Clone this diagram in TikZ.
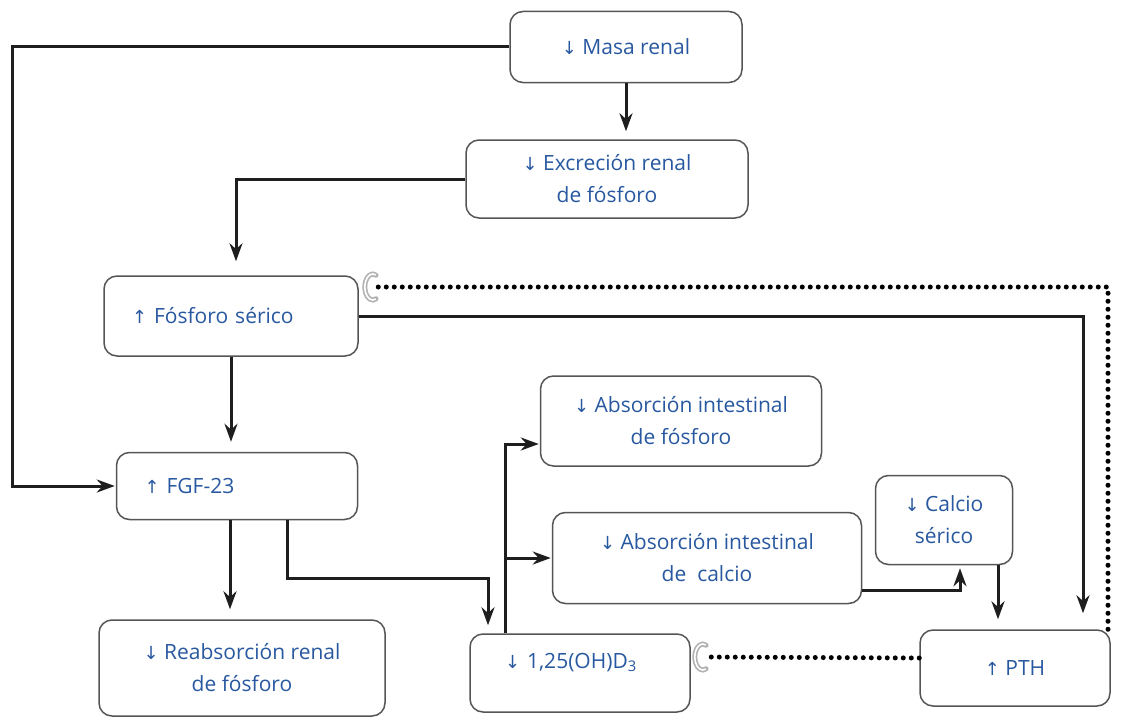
\documentclass[tikz,border=0pt]{standalone}
\usepackage{fontspec}
\setmainfont{Open Sans}
\newfontfamily\arrowfont{DejaVu Sans}
\usetikzlibrary{arrows.meta}
\definecolor{txtblue}{RGB}{40,88,160}
\definecolor{boxgray}{RGB}{85,85,85}
\definecolor{linegray}{RGB}{30,30,30}
\newcommand{\bajo}{{\arrowfont\fontsize{18}{18}\selectfont ↓}}
\newcommand{\sube}{{\arrowfont\fontsize{18}{18}\selectfont ↑}}
\tikzset{
  box/.style={draw=boxgray, line width=1.5pt, rounded corners=13pt, fill=white,
    text=txtblue, align=center, font=\fontsize{21}{32}\selectfont},
  lbox/.style={box, align=left, inner xsep=#1},
  conn/.style={draw=linegray, line width=3pt, -{Stealth[length=18pt,width=13pt]}},
  inhib/.style={line width=5pt, line cap=round, dash pattern=on 0pt off 8pt},
  stopmark/.pic={
    \draw[gray!60, line width=5pt, line cap=round] (8,0) ++(65:8 and 13) arc[start angle=65, end angle=295, x radius=8, y radius=13];
    \draw[white, line width=1.6pt] (8,0) ++(68:8 and 13) arc[start angle=68, end angle=292, x radius=8, y radius=13];
  },
}
\begin{document}
\begin{tikzpicture}[x=1pt,y=-1pt]
		%%%%% START %%%%%
		\useasboundingbox (0,0) rectangle (1124,717);
		
		\node[box, minimum width=232pt, minimum height=71pt] (masa) at (626,47) {\bajo\ Masa renal};
		\node[box, minimum width=282pt, minimum height=78pt] (excrecion) at (607,179) {\bajo\ Excreción renal\\de fósforo};
		\node[lbox=28pt, text width=198pt, minimum height=80pt] (fosforo) at (231,316) {\sube\ Fósforo sérico};
		\node[lbox=28pt, text width=185pt, minimum height=67pt] (fgf) at (237,486) {\sube\ FGF-23};
		\node[box, minimum width=286pt, minimum height=96pt] (reab) at (242,668) {\bajo\ Reabsorción renal\\de fósforo};
		\node[lbox=35pt, text width=150pt, inner ysep=4pt, text height=30pt, text depth=40pt] (uno25) at (580,673) {\bajo\ 1,25(OH)D\textsubscript{3}};
		\node[box, minimum width=281pt, minimum height=90pt] (absP) at (681,421) {\bajo\ Absorción intestinal\\de fósforo};
		\node[box, minimum width=309pt, minimum height=91pt] (absCa) at (707,558) {\bajo\ Absorción intestinal\\de\ \ calcio};
		\node[box, minimum width=137pt, minimum height=89pt] (calcio) at (944,520) {\bajo\ Calcio\\sérico};
		\node[box, minimum width=190pt, minimum height=76pt] (pth) at (1015,668) {\sube\ PTH};
		
		% solid connectors
		\draw[conn, shorten >=1pt] (masa.west) -- ++(-497,0) |- (fgf.west);
		\draw[conn, shorten >=8pt] (masa.south) -- (masa.south |- excrecion.north);
		\draw[conn, shorten >=14pt] (excrecion.west) -| ([xshift=5pt]fosforo.north);
		\draw[conn, shorten >=10pt] (fosforo.south) -- (fosforo.south |- fgf.north);
		\draw[conn, shorten >=16pt] (fosforo.east) -| ([xshift=68pt]pth.north);
		\draw[conn, shorten >=10pt] ([xshift=-7pt]fgf.south) -- ([xshift=-7pt]fgf.south |- reab.north);
		\draw[conn, shorten >=8pt] ([xshift=50pt]fgf.south) -- ++(0,58) -| ([xshift=-92pt]uno25.north);
		\draw[conn, shorten >=1pt] ([xshift=-75pt]uno25.north) |- ([yshift=-23pt]absP.west);
		\draw[conn, shorten >=1pt] ([xshift=-75pt]uno25.north |- absCa.west) -- (absCa.west);
		\draw[conn, shorten >=3pt] ([yshift=-32pt]absCa.east) -| ([xshift=16pt]calcio.south);
		\draw[conn, shorten >=10pt] ([xshift=54pt]calcio.south) -- ([xshift=54pt]calcio.south |- pth.north);
		
		% dotted inhibition
		\draw[inhib] ([xshift=93pt]pth.north) |- ([xshift=18pt,yshift=29pt]fosforo.east);
		\pic at ([xshift=6pt,yshift=29pt]fosforo.east) {stopmark};
		\draw[inhib] ([yshift=10pt]pth.west) -- ([xshift=16pt,yshift=16pt]uno25.east);
		\pic at ([xshift=4pt,yshift=16pt]uno25.east) {stopmark};
		
		%%%%% END %%%%%
	\end{tikzpicture}
\end{document}
